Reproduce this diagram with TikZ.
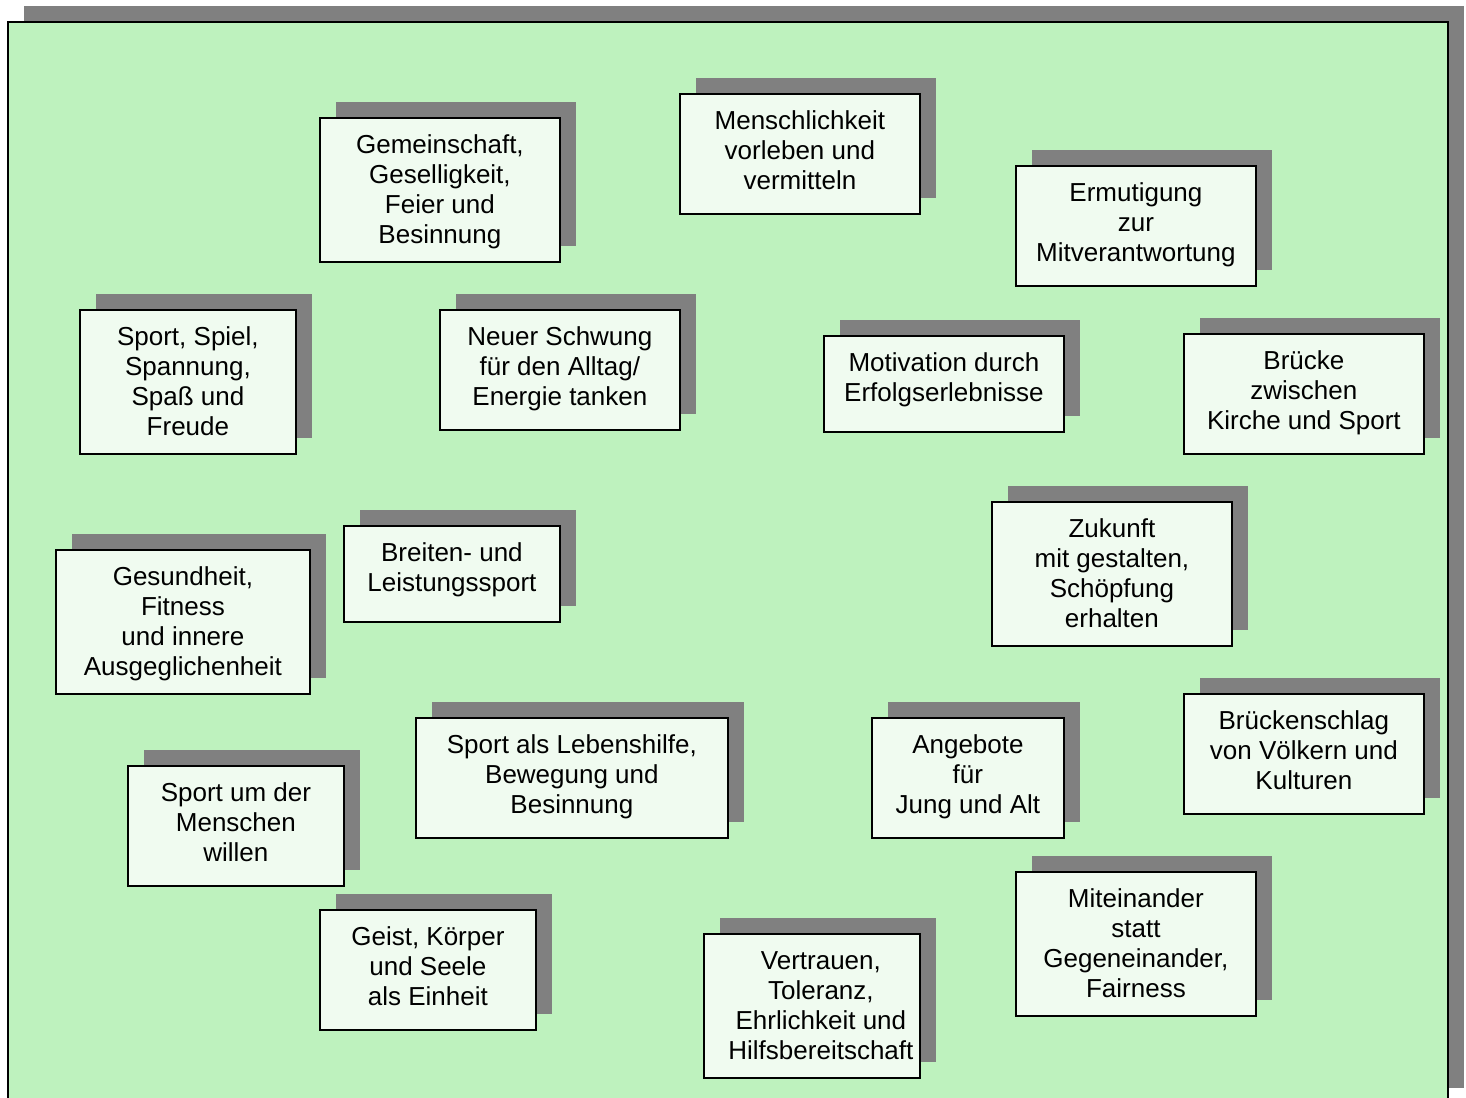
\documentclass[tikz,border=0pt]{standalone}
\usepackage{fontspec}
\setmainfont{Liberation Sans}
\usetikzlibrary{shadows,calc}
\definecolor{bggreen}{RGB}{190,242,190}
\definecolor{cardfill}{RGB}{240,251,240}
\definecolor{shadowgray}{RGB}{128,128,128}
\tikzset{
  framebox/.style={draw=black, line width=1.6pt, fill=bggreen, rectangle, inner sep=0pt, anchor=north west,
    general shadow={fill=shadowgray, shadow xshift=16.5pt, shadow yshift=16pt}},
  card/.style={draw=black, line width=1.8pt, fill=cardfill, rectangle, inner sep=0pt, anchor=north west,
    general shadow={fill=shadowgray, shadow xshift=16pt, shadow yshift=16pt}},
  cardtext/.style={align=center, inner sep=0pt, anchor=north, font=\fontsize{26}{30}\selectfont}
}
% #1 text xshift, #2 name, #3 x, #4 y (top), #5 width, #6 height, #7 text
\newcommand{\mycard}[7][0]{%
  \node[card, minimum width=#5pt, minimum height=#6pt] (#2) at (#3,-#4) {};
  \node[cardtext] (#2-text) at ($(#2.north)+(#1pt,-15pt)$) {\strut#7};
}
\begin{document}
\begin{tikzpicture}[x=1pt,y=1pt]
\useasboundingbox (0,0) rectangle (1466,-1097);
\begin{scope}
\clip (0,0) rectangle (1466,-1097);
\node[framebox, minimum width=1440pt, minimum height=1082pt] (frame) at (7,-21) {};
\end{scope}
\mycard{gemeinschaft}{319}{117}{240}{144}{Gemeinschaft,\\Geselligkeit,\\Feier und\\Besinnung}
\mycard{menschlichkeit}{679}{93}{240}{120}{Menschlichkeit\\vorleben und\\vermitteln}
\mycard{ermutigung}{1015}{165}{240}{120}{Ermutigung\\zur\\Mitverantwortung}
\mycard{sportspiel}{79}{309}{216}{144}{Sport, Spiel,\\Spannung,\\Spaß und\\Freude}
\mycard{schwung}{439}{309}{240}{120}{Neuer Schwung\\für den Alltag/\\Energie tanken}
\mycard{motivation}{823}{335}{240}{96}{Motivation durch\\Erfolgserlebnisse}
\mycard{bruecke}{1183}{333}{240}{120}{Brücke\\zwischen\\Kirche und Sport}
\mycard{gesundheit}{55}{549}{254}{144}{Gesundheit,\\Fitness\\und innere\\Ausgeglichenheit}
\mycard{breiten}{343}{525}{216}{96}{Breiten- und\\Leistungssport}
\mycard{zukunft}{991}{501}{240}{144}{Zukunft\\mit gestalten,\\Schöpfung\\erhalten}
\mycard{lebenshilfe}{415}{717}{312}{120}{Sport als Lebenshilfe,\\Bewegung und\\Besinnung}
\mycard{angebote}{871}{717}{192}{120}{Angebote\\für\\Jung und Alt}
\mycard{brueckenschlag}{1183}{693}{240}{120}{Brückenschlag\\von Völkern und\\Kulturen}
\mycard{menschen}{127}{765}{216}{120}{Sport um der\\Menschen\\willen}
\mycard{geist}{319}{909}{216}{120}{Geist, Körper\\und Seele\\als Einheit}
\mycard[9]{vertrauen}{703}{933}{216}{144}{Vertrauen,\\Toleranz,\\Ehrlichkeit und\\Hilfsbereitschaft}
\mycard{miteinander}{1015}{871}{240}{144}{Miteinander\\statt\\Gegeneinander,\\Fairness}
\end{tikzpicture}
\end{document}
